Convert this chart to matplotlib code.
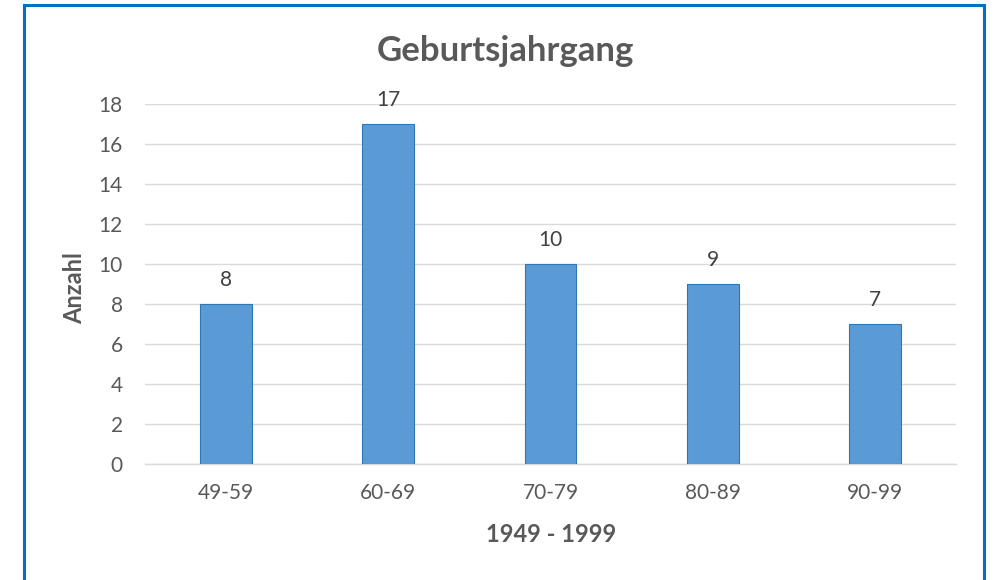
import matplotlib
matplotlib.use("Agg")
import matplotlib.pyplot as plt
from matplotlib.patches import Rectangle

categories = ["49-59", "60-69", "70-79", "80-89", "90-99"]
values = [8, 17, 10, 9, 7]
yticks = [0, 2, 4, 6, 8, 10, 12, 14, 16, 18]

plt.rcParams['font.family'] = ['Lato', 'DejaVu Sans']
gray = "#595959"

fig = plt.figure(figsize=(9.94, 5.8), dpi=100)
ax = fig.add_axes([145/994, 116/580, (956-145)/994, (464-104)/580])

x = range(len(categories))
bars = ax.bar(x, values, width=0.32, color="#5B9BD5", edgecolor="#2E75B6", linewidth=0.8, zorder=3)
for xi, v in zip(x, values):
    ax.annotate(str(v), (xi, v), xytext=(0, 10), textcoords="offset points",
                ha="center", va="bottom", fontsize=15, color="#404040")

ax.set_xlim(-0.5, len(categories) - 0.5)
ax.set_ylim(0, 18)
ax.set_yticks(yticks)
ax.set_xticks(list(x))
ax.set_xticklabels(categories)
ax.tick_params(axis="both", length=0, labelsize=15, colors=gray)
ax.tick_params(axis="y", pad=16)
ax.tick_params(axis="x", pad=14)
ax.grid(axis="y", color="#D9D9D9", linewidth=1, zorder=0)
for s in ["top", "right", "left"]:
    ax.spines[s].set_visible(False)
ax.spines["bottom"].set_color("#D9D9D9")
ax.spines["bottom"].set_linewidth(1)

fig.text(75/994, 1 - 288/580, "Anzahl", rotation=90, ha="center", va="center",
         fontsize=17, fontweight="bold", color=gray)
fig.text(551/994, 1 - 535/580, "1949 - 1999", ha="center", va="center",
         fontsize=17, fontweight="bold", color=gray)

fig.text(505/994, 1 - 51/580, "Geburtsjahrgang", ha="center", va="center",
         fontsize=25, fontweight="bold", color=gray)

# outer border
fig.patches.append(Rectangle((24/994, -0.02), (984-24)/994, (1 - 5/580) + 0.02,
                             transform=fig.transFigure, fill=False,
                             edgecolor="#0070C0", linewidth=2.2))

fig.savefig("out.png", dpi=100)
